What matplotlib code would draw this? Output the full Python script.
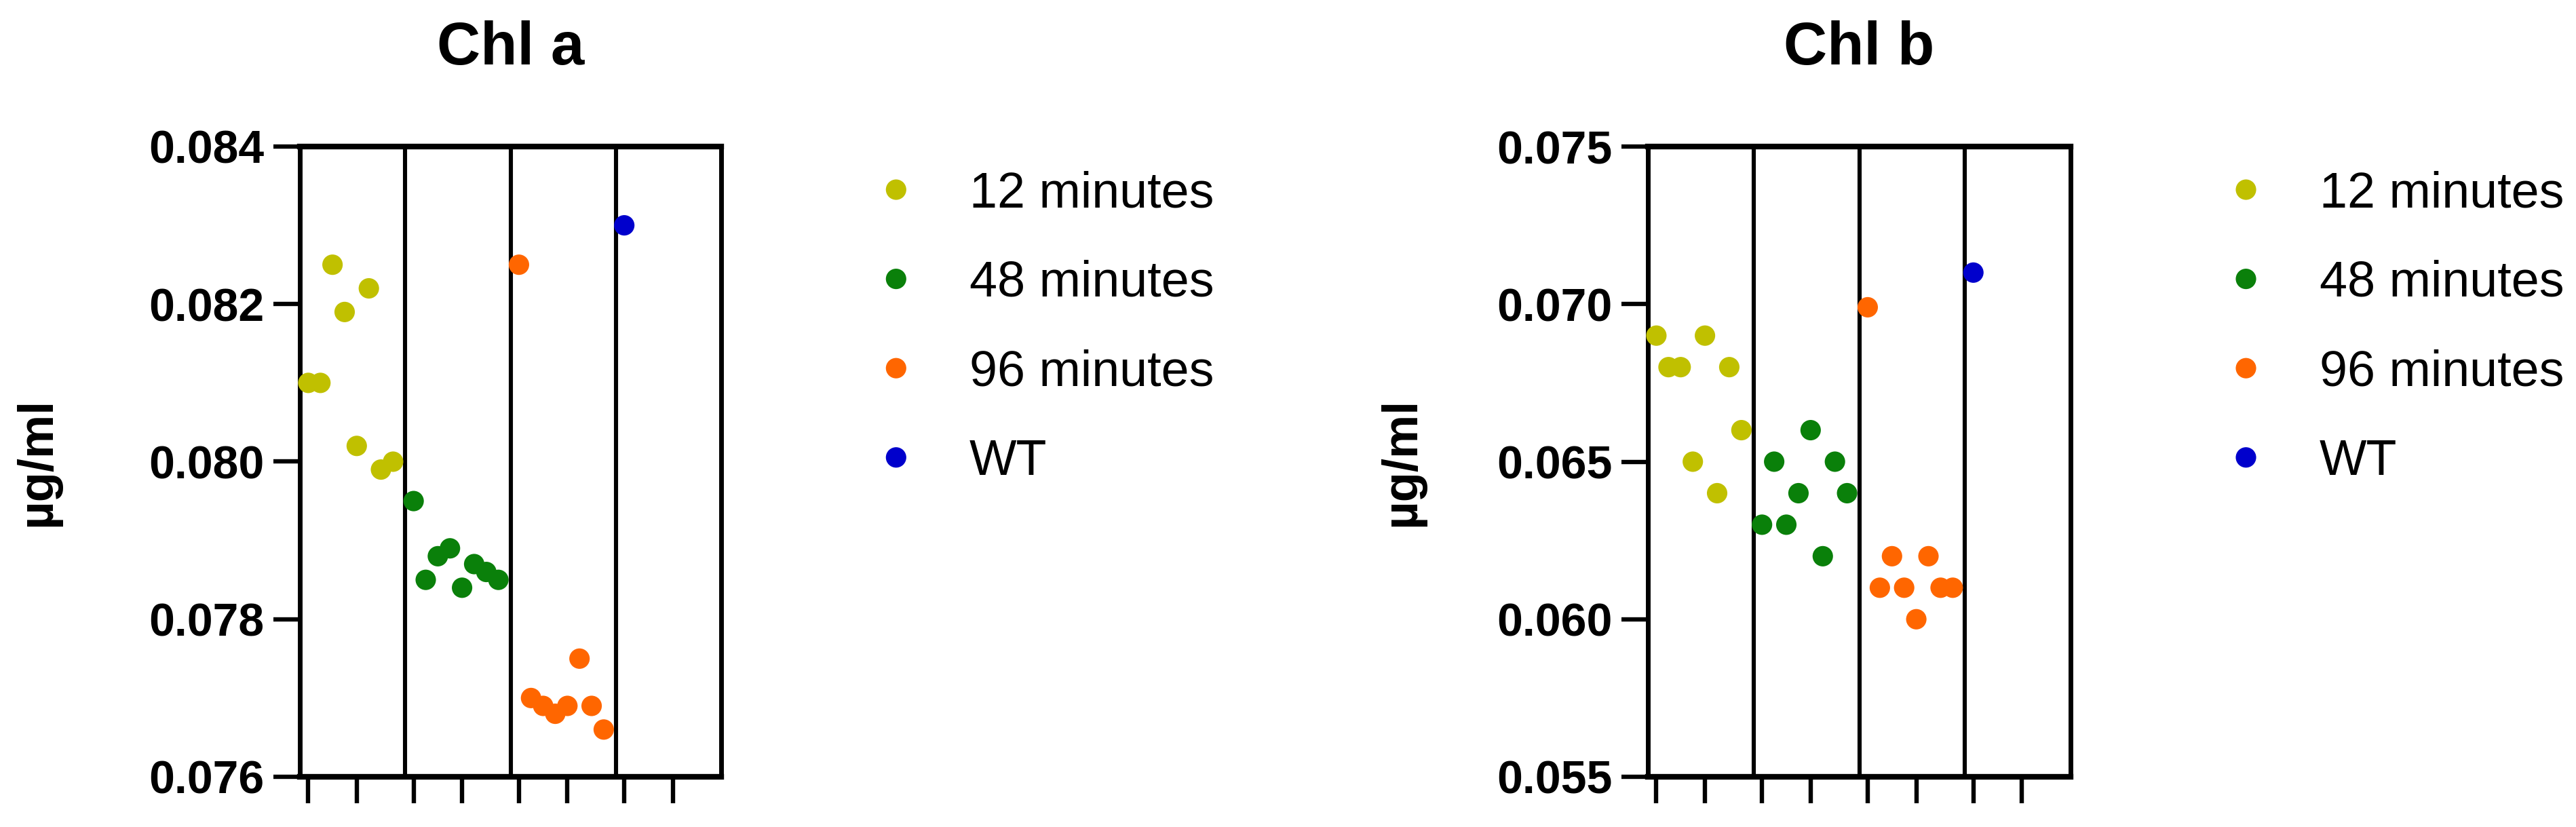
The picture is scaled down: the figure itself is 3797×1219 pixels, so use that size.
import matplotlib
matplotlib.use("Agg")
import matplotlib.pyplot as plt
import numpy as np

plt.rcParams['font.family'] = ['Liberation Sans', 'DejaVu Sans']

# ---- data ----
groups = ["12 minutes", "48 minutes", "96 minutes", "WT"]
colors = ["#C0C000", "#0A800A", "#FF6600", "#0000CC"]

chla_12 = [0.0810, 0.0810, 0.0825, 0.0819, 0.0802, 0.0822, 0.0799, 0.0800]
chla_48 = [0.0795, 0.0785, 0.0788, 0.0789, 0.0784, 0.0787, 0.0786, 0.0785]
chla_96 = [0.0825, 0.0770, 0.0769, 0.0768, 0.0769, 0.0775, 0.0769, 0.0766]
chla_wt = [0.0830]

chlb_12 = [0.069, 0.068, 0.068, 0.065, 0.069, 0.064, 0.068, 0.066]
chlb_48 = [0.063, 0.065, 0.063, 0.064, 0.066, 0.062, 0.065, 0.064]
chlb_96 = [0.0699, 0.061, 0.062, 0.061, 0.060, 0.062, 0.061, 0.061]
chlb_wt = [0.071]

chla_yticks = [0.076, 0.078, 0.080, 0.082, 0.084]
chlb_yticks = [0.055, 0.060, 0.065, 0.070, 0.075]

titles = ["Chl a", "Chl b"]
ylabel = "µg/ml"

# ---- layout ----
W, H = 3797, 1219
fig = plt.figure(figsize=(W / 100, H / 100), dpi=100)

sub_offsets = 0.08 + 0.115 * np.arange(8)
tick_offsets = [0.08, 0.54]

panels = [
    dict(left=442, right=1063, data=[chla_12, chla_48, chla_96, chla_wt],
         yticks=chla_yticks, title=titles[0], ylab_x=55),
    dict(left=2429, right=3052, data=[chlb_12, chlb_48, chlb_96, chlb_wt],
         yticks=chlb_yticks, title=titles[1], ylab_x=2066),
]
top_px, bot_px = 216, 1145

for p in panels:
    ax = fig.add_axes([p['left'] / W, (H - bot_px) / H,
                       (p['right'] - p['left']) / W, (bot_px - top_px) / H])
    ax.set_xlim(0, 4)
    ax.set_ylim(p['yticks'][0], p['yticks'][-1])
    handles = []
    for g, (vals, col) in enumerate(zip(p['data'], colors)):
        xs = g + sub_offsets[:len(vals)]
        h = ax.scatter(xs, vals, s=470, color=col, edgecolors='none',
                       clip_on=False, zorder=3, label=groups[g])
        handles.append(h)
    for b in [1, 2, 3]:
        ax.axvline(b, color='black', lw=4.4, zorder=2)
    for side in ['top', 'bottom']:
        ax.spines[side].set_linewidth(6.0)
    for side in ['left', 'right']:
        ax.spines[side].set_linewidth(5.0)
    ax.set_xticks([g + o for g in range(4) for o in tick_offsets])
    ax.set_xticklabels([])
    ax.tick_params(axis='x', direction='out', length=28, width=4.6)
    ax.set_yticks(p['yticks'])
    ax.set_yticklabels([f"{v:.3f}" for v in p['yticks']])
    ax.tick_params(axis='y', direction='out', length=28, width=4.6, pad=10,
                   labelsize=49)
    for lab in ax.get_yticklabels():
        lab.set_fontweight('bold')
    cx = (p['left'] + p['right']) / 2 / W
    fig.text(cx, 1 - 95 / H, p['title'], ha='center', va='baseline',
             fontsize=64, fontweight='bold')
    fig.text(p['ylab_x'] / W, 1 - (top_px + bot_px) / 2 / H, ylabel,
             rotation=90, ha='center', va='center', fontsize=52,
             fontweight='bold')
    ax.legend(handles=handles, labels=groups, loc='upper left',
              bbox_to_anchor=((1284 - 442) / 621, 0.962),
              frameon=False, fontsize=53, handlelength=1.0,
              handletextpad=0.97, labelspacing=0.85, borderpad=0,
              borderaxespad=0, scatterpoints=1, scatteryoffsets=[0.5])

fig.savefig("out.png", dpi=100)
